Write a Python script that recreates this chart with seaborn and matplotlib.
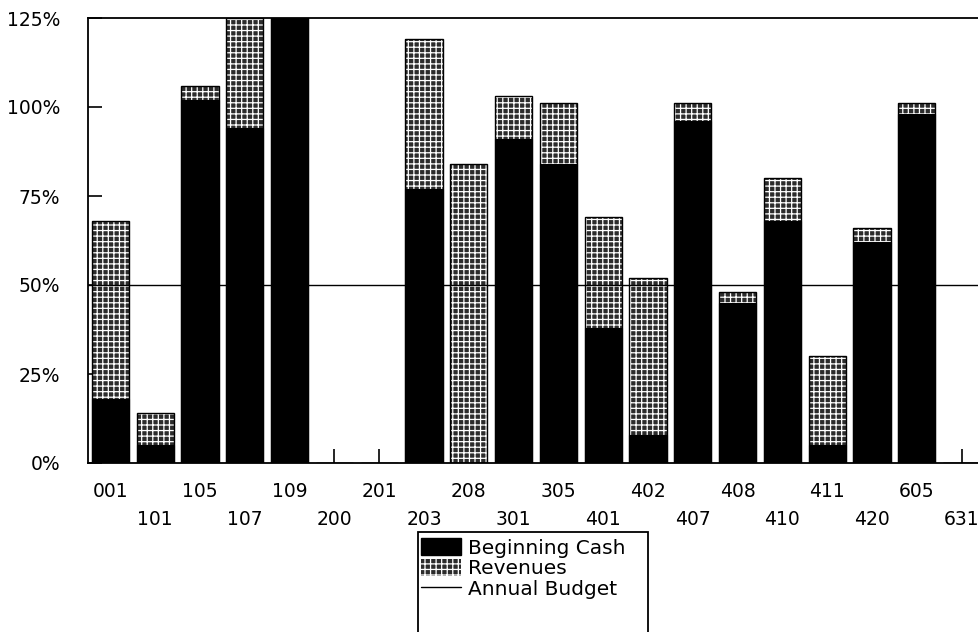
import matplotlib
matplotlib.use("Agg")
import matplotlib.pyplot as plt
import seaborn as sns
import pandas as pd
from matplotlib.patches import Patch, Rectangle
from matplotlib.lines import Line2D

# Fund codes and their year-to-date percentages
funds = ["001", "101", "105", "107", "109", "200", "201", "203", "208", "301",
         "305", "401", "402", "407", "408", "410", "411", "420", "605", "631"]
beginning_cash = [18, 5, 102, 94, 125, 0, 0, 77, 0, 91,
                  84, 38, 8, 96, 45, 68, 5, 62, 98, 0]
revenues = [50, 9, 4, 31, 0, 0, 0, 42, 84, 12,
            17, 31, 44, 5, 3, 12, 25, 4, 3, 0]
annual_budget = 50
y_ticks = [0, 25, 50, 75, 100, 125]

df = pd.DataFrame({"fund": funds, "cash": beginning_cash, "rev": revenues})
df["total"] = df["cash"] + df["rev"]

sns.set_theme(style="white")
plt.rcParams["font.family"] = ["DejaVu Sans"]
plt.rcParams["text.color"] = "black"
plt.rcParams["hatch.linewidth"] = 0.9

REV_FACE = "#2c2c2c"
REV_HATCH = "+++"

fig = plt.figure(figsize=(9.79, 6.32), dpi=100)
ax = fig.add_axes([88 / 979, 169 / 632, 896 / 979, 445 / 632])

# Revenues stacked above beginning cash: totals first, then cash drawn over them
sns.barplot(data=df, x="fund", y="total", color=REV_FACE, width=0.83,
            saturation=1, ax=ax, zorder=2)
n = len(ax.patches)
for p in ax.patches:
    p.set_hatch(REV_HATCH)
    p.set_edgecolor("white")
    p.set_linewidth(0)
# black outline around the revenue segments
sns.barplot(data=df, x="fund", y="total", fill=False, color="black", width=0.83,
            ax=ax, zorder=2.5)
m = len(ax.patches)
for p in ax.patches[n:m]:
    p.set_edgecolor("black")
    p.set_linewidth(1.0)
sns.barplot(data=df, x="fund", y="cash", color="black", width=0.83,
            saturation=1, ax=ax, zorder=3)
for p in ax.patches[m:]:
    p.set_edgecolor("black")
    p.set_linewidth(0.8)

ax.axhline(annual_budget, color="black", lw=1.0, zorder=4)

ax.set_ylim(0, 125)
ax.set_xlim(-0.5, len(funds) - 0.5)
ax.set_yticks(y_ticks)
ax.set_yticklabels([f"{v}%" for v in y_ticks])
ax.set_xticks(range(len(funds)))
ax.set_xticklabels([f if i % 2 == 0 else "\n" + f for i, f in enumerate(funds)])
for lbl in ax.get_xticklabels():
    lbl.set_linespacing(1.6)
ax.set_xlabel("")
ax.set_ylabel("")

ax.tick_params(axis="both", direction="in", length=10, width=1.2, colors="black",
               labelsize=13.5, bottom=True, left=True)
ax.tick_params(axis="x", pad=14)
ax.tick_params(axis="y", pad=20)

for s in ax.spines.values():
    s.set_visible(True)
    s.set_color("black")
    s.set_linewidth(1.3)

handles = [
    Patch(facecolor="black", edgecolor="black", label="Beginning Cash"),
    Patch(facecolor=REV_FACE, edgecolor="white", hatch=REV_HATCH, lw=0, label="Revenues"),
    Line2D([0], [0], color="black", lw=1.0, label="Annual Budget"),
]
leg = fig.legend(handles=handles, loc="upper left",
                 bbox_to_anchor=(421 / 979, 94 / 632), borderaxespad=0,
                 frameon=False, fontsize=14.5, handlelength=2.0, handleheight=0.95,
                 labelspacing=0.05, borderpad=0.0, handletextpad=0.35)
# legend frame runs past the lower edge of the figure
fig.add_artist(Rectangle((418 / 979, -0.05), (648 - 418) / 979, 0.05 + 100 / 632,
                         transform=fig.transFigure, fill=False,
                         edgecolor="black", lw=1.3))

fig.savefig("out.png", dpi=100)
